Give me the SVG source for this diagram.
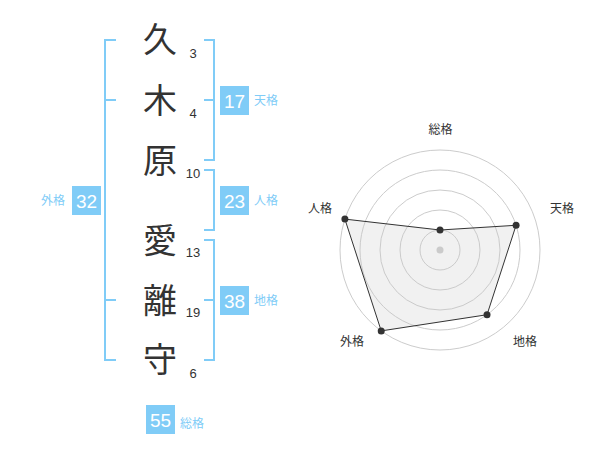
<svg xmlns="http://www.w3.org/2000/svg" width="600" height="470" viewBox="0 0 600 470">
<style>
.ch{font-family:"Noto Sans CJK JP","Noto Sans CJK SC",sans-serif;font-size:34px;fill:#333;text-anchor:middle}
.sn{font-family:"Liberation Sans",Arial,sans-serif;font-size:13px;fill:#333;text-anchor:middle}
.br{fill:none;stroke:#80ccf7;stroke-width:2}
.bx{fill:#80ccf7}
.bn{font-family:"Liberation Sans",Arial,sans-serif;font-size:19px;fill:#fff;text-anchor:middle}
.bl{font-family:"Noto Sans CJK JP","Noto Sans CJK SC",sans-serif;font-size:12px;fill:#80ccf7}
.rg{fill:none;stroke:#ccc;stroke-width:1}
.rl{font-family:"Noto Sans CJK JP","Noto Sans CJK SC",sans-serif;font-size:12px;fill:#333;text-anchor:middle}
.dot{fill:#333}
</style>
<rect width="600" height="470" fill="#fff"/>
<g id="chars">
<text class="ch" x="160" y="52">久</text>
<text class="ch" x="160" y="113">木</text>
<text class="ch" x="160" y="173">原</text>
<text class="ch" x="160" y="253">愛</text>
<text class="ch" x="160" y="313">離</text>
<text class="ch" x="160" y="372">守</text>
</g>
<g id="strokes">
<text class="sn" x="193" y="58">3</text>
<text class="sn" x="193" y="118">4</text>
<text class="sn" x="193" y="178">10</text>
<text class="sn" x="193" y="257">13</text>
<text class="sn" x="193" y="317">19</text>
<text class="sn" x="193" y="378">6</text>
</g>
<g id="connectors">
<path class="br" d="M116,40H105V360H116M105,100H116M105,300H116"/>
<path class="br" d="M204,40H214V160H204M204,100H214"/>
<path class="br" d="M204,170H214V230H204"/>
<path class="br" d="M204,240H214V360H204M204,300H214"/>
</g>
<g id="tenkaku">
<rect class="bx" x="220" y="86" width="29" height="29"/>
<text class="bn" x="234.5" y="107.5">17</text>
<text class="bl" x="254" y="105">天格</text>
</g>
<g id="jinkaku">
<rect class="bx" x="220" y="186" width="29" height="29"/>
<text class="bn" x="234.5" y="207.5">23</text>
<text class="bl" x="254" y="205">人格</text>
</g>
<g id="chikaku">
<rect class="bx" x="220" y="286" width="29" height="29"/>
<text class="bn" x="234.5" y="307.5">38</text>
<text class="bl" x="254" y="305">地格</text>
</g>
<g id="gaikaku">
<rect class="bx" x="72" y="186" width="29" height="29"/>
<text class="bn" x="86.5" y="207.5">32</text>
<text class="bl" x="41" y="205">外格</text>
</g>
<g id="soukaku">
<rect class="bx" x="146" y="405" width="29" height="29"/>
<text class="bn" x="160.5" y="426.5">55</text>
<text class="bl" x="180" y="428">総格</text>
</g>
<g id="radar">
<circle class="rg" cx="440" cy="250" r="20"/>
<circle class="rg" cx="440" cy="250" r="40"/>
<circle class="rg" cx="440" cy="250" r="60"/>
<circle class="rg" cx="440" cy="250" r="80"/>
<circle class="rg" cx="440" cy="250" r="100"/>
<circle cx="440" cy="250" r="3.5" fill="#ccc"/>
<polygon points="440,230 516.08,225.28 487.02,314.72 381.22,330.9 344.89,219.1" fill="rgba(200,200,200,0.25)" stroke="#333" stroke-width="1"/>
<circle class="dot" cx="440" cy="230" r="3.5"/>
<circle class="dot" cx="516.08" cy="225.28" r="3.5"/>
<circle class="dot" cx="487.02" cy="314.72" r="3.5"/>
<circle class="dot" cx="381.22" cy="330.9" r="3.5"/>
<circle class="dot" cx="344.89" cy="219.1" r="3.5"/>
<text class="rl" x="440.5" y="134">総格</text>
<text class="rl" x="562" y="213">天格</text>
<text class="rl" x="525" y="346">地格</text>
<text class="rl" x="352" y="346">外格</text>
<text class="rl" x="320" y="213">人格</text>
</g>
</svg>
